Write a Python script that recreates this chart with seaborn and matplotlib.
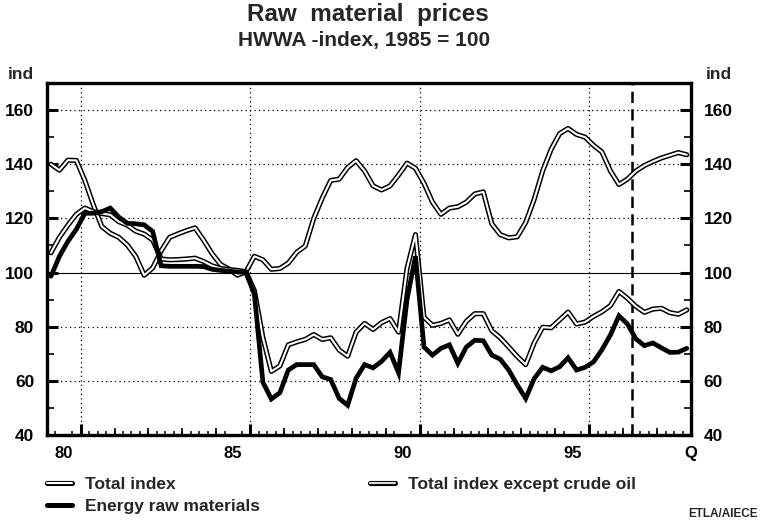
import numpy as np
import pandas as pd
import matplotlib
matplotlib.use("Agg")
import matplotlib.pyplot as plt
import matplotlib.patheffects as pe
from matplotlib.lines import Line2D
import seaborn as sns

# ---------------- data (quarterly, 1980Q1 .. 1998Q4) ----------------
years = list(range(1980, 1999))
quarters = [f"{y}Q{q}" for y in years for q in range(1, 5)]

total_index = [
    107.3, 113.0, 117.5, 121.5, 123.8, 122.5, 121.8, 121.3,
    118.8, 117.5, 115.3, 114.2, 112.0, 105.0, 104.7, 104.8,
    105.0, 105.3, 104.1, 102.5, 101.5, 101.1, 100.8, 100.3,
    93.3, 76.0, 63.5, 65.5, 73.3, 74.4, 75.3, 77.1,
    75.3, 75.9, 71.4, 69.1, 78.0, 81.2, 79.0, 81.5,
    83.0, 78.0, 101.5, 114.0, 83.5, 80.5, 81.2, 82.5,
    77.2, 82.0, 84.8, 84.8, 78.5, 75.9, 72.5, 69.0,
    66.0, 74.0, 79.8, 79.6, 82.5, 85.4, 81.0, 81.7,
    83.8, 85.5, 87.8, 93.0, 90.5, 87.5, 85.3, 86.5,
    86.8, 85.2, 84.6, 86.2,
]

except_crude = [
    140.0, 137.8, 141.5, 141.4, 134.0, 125.0, 117.0, 114.5,
    113.0, 110.2, 106.0, 99.0, 101.7, 108.0, 113.0, 114.3,
    115.5, 116.5, 112.0, 107.0, 103.0, 101.3, 99.0, 100.3,
    106.0, 104.7, 101.2, 101.5, 103.5, 107.5, 109.8, 120.0,
    127.5, 134.0, 134.5, 138.8, 141.3, 137.5, 132.0, 130.5,
    132.0, 136.0, 140.4, 138.5, 133.0, 126.0, 121.5, 123.8,
    124.3, 126.0, 129.0, 129.8, 118.0, 114.0, 112.8, 113.2,
    118.5, 127.0, 137.5, 145.5, 151.3, 153.2, 151.0, 150.0,
    147.0, 144.5, 137.5, 132.5, 134.5, 137.5, 139.5, 141.0,
    142.3, 143.3, 144.3, 143.5,
]

energy = [
    98.6, 106.0, 111.5, 116.0, 121.9, 121.9, 122.5, 123.8,
    120.5, 118.2, 118.0, 117.6, 115.2, 102.5, 102.3, 102.3,
    102.3, 102.3, 102.2, 101.2, 100.8, 100.5, 100.2, 100.0,
    92.0, 59.5, 53.3, 55.6, 64.0, 66.0, 66.0, 66.0,
    61.5, 60.5, 53.5, 51.0, 61.0, 66.0, 64.8, 67.2,
    70.5, 63.0, 90.0, 106.0, 72.5, 69.5, 72.0, 73.3,
    66.5, 72.5, 75.0, 74.8, 69.5, 68.0, 64.0, 58.5,
    53.5, 60.8, 65.0, 63.7, 65.2, 68.5, 64.0, 65.0,
    67.0, 71.5, 77.0, 84.0, 81.0, 75.5, 73.0, 74.0,
    72.2, 70.5, 70.6, 72.0,
]

x_tick_labels = ["80", "85", "90", "95", "Q"]
x_tick_pos = [1980.5, 1985.5, 1990.5, 1995.5, 1999.0]
grid_years = [1981, 1986, 1991, 1996]
forecast_start = 1997.25
y_ticks = [40, 60, 80, 100, 120, 140, 160]
legend_labels = ["Total index", "Total index except crude oil", "Energy raw materials"]

# ---------------- style ----------------
sns.set_theme(style="white")
plt.rcParams["font.family"] = ["Liberation Sans", "DejaVu Sans"]
plt.rcParams["font.weight"] = "bold"

t = np.array([int(q[:4]) + (int(q[-1]) - 0.5) / 4 for q in quarters])
df = pd.DataFrame({"t": t, "total": total_index, "exo": except_crude, "energy": energy})

W, H = 761, 520
fig = plt.figure(figsize=(W / 100, H / 100), dpi=100)
fig.patch.set_facecolor("white")
L, R, T, B = 46.7, 691, 83, 435
ax = fig.add_axes([L / W, 1 - B / H, (R - L) / W, (B - T) / H])
ax.set_facecolor("white")

# grid
dot = (0, (1, 2.6))
for gy in [v for v in y_ticks if v not in (40, 100)]:
    ax.axhline(gy, color="black", lw=0.9, ls=dot, zorder=1)
for gx in grid_years:
    ax.axvline(gx, color="black", lw=0.9, ls=dot, zorder=1)
ax.axhline(100, color="black", lw=0.8, zorder=1)
ax.axvline(forecast_start, color="black", lw=1.8, ls=(0, (4.5, 2.5)), zorder=2)

double_fx = [pe.Stroke(linewidth=3.7, foreground="black"), pe.Normal()]
sns.lineplot(data=df, x="t", y="exo", ax=ax, color="white", lw=1.5,
             path_effects=double_fx, sort=False, zorder=3)
sns.lineplot(data=df, x="t", y="total", ax=ax, color="white", lw=1.5,
             path_effects=double_fx, sort=False, zorder=4)
sns.lineplot(data=df, x="t", y="energy", ax=ax, color="black", lw=3.4,
             sort=False, zorder=5, solid_joinstyle="miter")

ax.set_xlim(1980, 1999)
ax.set_ylim(40, 170)
ax.set_xlabel("")
ax.set_ylabel("")

for s in ax.spines.values():
    s.set_visible(True)
    s.set_color("black")
    s.set_linewidth(2.4)

ax.set_xticks(x_tick_pos, labels=x_tick_labels)
ax.set_xticks(np.arange(1980, 1999.01, 0.25), minor=True)
ax.tick_params(axis="x", which="major", length=0, pad=8, labelsize=12, colors="black")
ax.tick_params(axis="x", which="minor", bottom=True, direction="in", length=3, width=1.1, color="black")

sec = ax.secondary_xaxis("bottom")
sec.set_xticks(grid_years, labels=[])
sec.set_xticks(years, minor=True)
sec.tick_params(which="major", direction="in", length=8, width=2.2, color="black")
sec.tick_params(which="minor", direction="in", length=5, width=1.2, color="black")
sec.spines["bottom"].set_visible(False)

ax.set_yticks(y_ticks)
ax.set_yticks(list(range(50, 160, 20)), minor=True)
ax.tick_params(axis="y", which="both", direction="in", left=True, right=True,
               labelleft=True, labelright=True, color="black")
ax.tick_params(axis="y", which="major", length=8, width=2.2, pad=9, labelsize=12.5, labelcolor="black")
ax.tick_params(axis="y", which="minor", length=5, width=1.2)

# titles and axis units
fig.text(368 / W, 1 - 15 / H, "Raw  material  prices", ha="center", va="center",
         fontsize=17.5, fontweight="bold")
fig.text(364 / W, 1 - 41 / H, "HWWA -index, 1985 = 100", ha="center", va="center",
         fontsize=15, fontweight="bold")
fig.text(8 / W, 1 - 75 / H, "ind", ha="left", va="center", fontsize=12.5, fontweight="bold")
fig.text(706 / W, 1 - 75 / H, "ind", ha="left", va="center", fontsize=12.5, fontweight="bold")
fig.text(758 / W, 1 - 514 / H, "ETLA/AIECE", ha="right", va="center", fontsize=8.5, fontweight="bold")

# legend
h_total = Line2D([], [], color="white", lw=1.5, path_effects=double_fx)
h_exo = Line2D([], [], color="#d8d8d8", lw=1.5, path_effects=double_fx)
h_energy = Line2D([], [], color="black", lw=3.6)
common = dict(frameon=False, fontsize=12.5, handlelength=1.45, handletextpad=0.75,
              borderpad=0, borderaxespad=0, labelspacing=0.4, loc="upper left")
leg1 = fig.legend([h_total, h_energy], [legend_labels[0], legend_labels[2]],
                  bbox_to_anchor=(47 / W, 1 - 477 / H), **common)
leg2 = fig.legend([h_exo], [legend_labels[1]],
                  bbox_to_anchor=(370 / W, 1 - 477 / H), **common)

fig.savefig("out.png", dpi=100, facecolor="white")
